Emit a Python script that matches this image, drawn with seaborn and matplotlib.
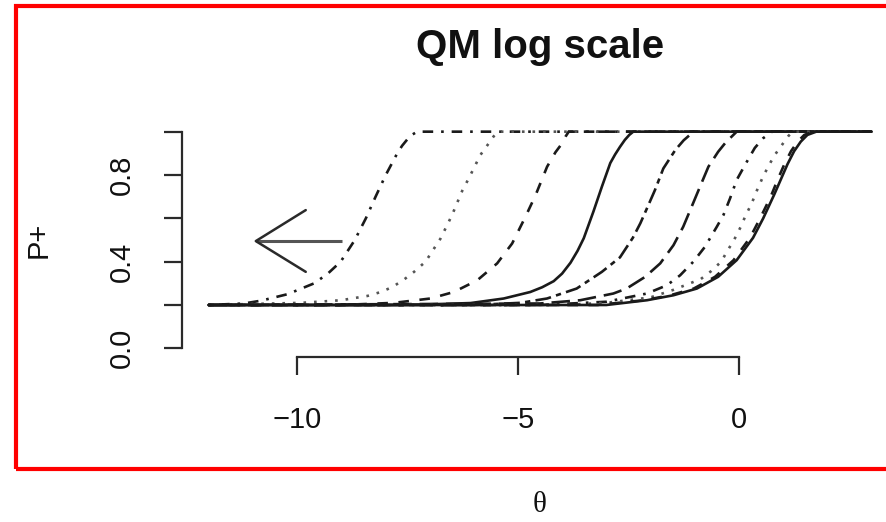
import matplotlib
matplotlib.use("Agg")
import matplotlib.pyplot as plt
import seaborn as sns
import pandas as pd
from matplotlib.patches import Rectangle

# ---------------- data ----------------
theta_1 = [-12, -11.2, -10.81, -10.21, -9.61, -9.30, -9.01, -8.69, -8.44, -8.22, -7.99, -7.73, -7.62, -7.50, -7.40, -7.28, 3]
p_1 = [0.2, 0.207, 0.22, 0.25, 0.30, 0.345, 0.40, 0.50, 0.60, 0.70, 0.80, 0.90, 0.935, 0.965, 0.985, 1.0, 1.0]

theta_2 = [-12, -9.9, -9.0, -8.40, -8.10, -7.84, -7.58, -7.35, -7.09, -6.75, -6.49, -6.26, -6.11, -5.85, -5.66, -5.55, -5.45, 3]
p_2 = [0.2, 0.21, 0.222, 0.242, 0.26, 0.283, 0.317, 0.353, 0.40, 0.507, 0.615, 0.727, 0.785, 0.892, 0.946, 0.978, 1.0, 1.0]

theta_3 = [-12, -9.0, -7.8, -6.98, -6.45, -5.92, -5.47, -5.13, -4.83, -4.60, -4.34, -4.15, -4.0, -3.92, -3.85, 3]
p_3 = [0.2, 0.2, 0.21, 0.23, 0.26, 0.314, 0.392, 0.484, 0.607, 0.707, 0.838, 0.905, 0.946, 0.978, 1.0, 1.0]

theta_4 = [-12, -8.0, -7.0, -6.07, -5.32, -4.72, -4.45, -4.19, -4.0, -3.81, -3.65, -3.51, -3.29, -3.10, -2.91, -2.80, -2.69, -2.58, -2.48, -2.39, 3]
p_4 = [0.2, 0.2, 0.203, 0.209, 0.23, 0.26, 0.282, 0.31, 0.345, 0.395, 0.45, 0.508, 0.632, 0.746, 0.855, 0.895, 0.93, 0.962, 0.985, 1.0, 1.0]

theta_5 = [-12, -6.0, -4.94, -4.34, -3.67, -3.10, -2.69, -2.40, -2.23, -2.05, -1.90, -1.71, -1.44, -1.25, -1.11, -1.05, 3]
p_5 = [0.2, 0.2, 0.21, 0.23, 0.276, 0.353, 0.42, 0.51, 0.577, 0.66, 0.73, 0.83, 0.915, 0.96, 0.985, 1.0, 1.0]

theta_6 = [-12, -4.5, -3.59, -2.84, -2.54, -2.12, -1.78, -1.48, -1.26, -1.07, -0.88, -0.69, -0.47, -0.30, -0.15, -0.05, 3]
p_6 = [0.2, 0.207, 0.222, 0.253, 0.276, 0.33, 0.392, 0.476, 0.561, 0.653, 0.746, 0.838, 0.907, 0.95, 0.98, 1.0, 1.0]

theta_7 = [-12, -4.5, -3.0, -2.08, -1.63, -1.33, -1.03, -0.77, -0.50, -0.35, -0.20, -0.05, 0.14, 0.36, 0.55, 0.75, 3]
p_7 = [0.2, 0.2, 0.215, 0.253, 0.291, 0.337, 0.40, 0.468, 0.561, 0.615, 0.692, 0.777, 0.847, 0.925, 0.97, 1.0, 1.0]

theta_8 = [-12, -4.0, -3.0, -2.0, -1.48, -0.86, -0.63, -0.40, -0.26, -0.11, 0.04, 0.15, 0.29, 0.40, 0.53, 0.66, 0.81, 1.0, 1.12, 1.22, 3]
p_8 = [0.2, 0.2, 0.21, 0.235, 0.27, 0.32, 0.356, 0.40, 0.45, 0.50, 0.56, 0.612, 0.669, 0.725, 0.785, 0.838, 0.892, 0.946, 0.98, 1.0, 1.0]

theta_9 = [-12, -3.2, -2.15, -1.55, -1.02, -0.54, -0.12, 0.25, 0.48, 0.72, 0.88, 1.03, 1.18, 1.33, 1.48, 1.68, 3]
p_9 = [0.2, 0.2, 0.222, 0.245, 0.276, 0.33, 0.407, 0.51, 0.60, 0.70, 0.78, 0.85, 0.91, 0.954, 0.985, 1.0, 1.0]

theta_10 = [-12, -3.0, -2.08, -1.48, -0.95, -0.47, -0.05, 0.32, 0.55, 0.80, 0.95, 1.10, 1.25, 1.40, 1.55, 1.75, 3]
p_10 = [0.2, 0.2, 0.222, 0.245, 0.276, 0.33, 0.407, 0.51, 0.60, 0.71, 0.78, 0.85, 0.91, 0.954, 0.985, 1.0, 1.0]

curve_names = ["c1", "c2", "c3", "c4", "c5", "c6", "c7", "c8", "c9", "c10"]
thetas = [theta_1, theta_2, theta_3, theta_4, theta_5, theta_6, theta_7, theta_8, theta_9, theta_10]
probs = [p_1, p_2, p_3, p_4, p_5, p_6, p_7, p_8, p_9, p_10]

x_ticks = [-10, -5, 0]
x_tick_labels = ["\u221210", "\u22125", "0"]
y_ticks = [0.0, 0.2, 0.4, 0.6, 0.8, 1.0]
y_tick_labels = ["0.0", "", "0.4", "", "0.8", ""]

arrow_tip = (-10.93, 0.495)
arrow_tail = (-8.97, 0.495)
arrow_arm_top = (-9.80, 0.638)
arrow_arm_bottom = (-9.80, 0.353)

title_text = "QM log scale"
x_label = "\u03b8"
y_label = "P+"

# ---------------- styles ----------------
# R lty patterns: solid, dashed, dotted, dotdash, longdash, twodash
dash_styles = {
    "c1": (1, 3, 4, 3),
    "c2": (1, 3),
    "c3": (4, 4),
    "c4": "",
    "c5": (2, 2, 6, 2),
    "c6": (7, 3),
    "c7": (1, 3, 4, 3),
    "c8": (1, 3),
    "c9": (4, 4),
    "c10": "",
}
line_colors = {n: "#1a1a1a" for n in curve_names}
line_colors["c2"] = "#555555"
line_colors["c8"] = "#555555"

frames = []
for name, th, pp in zip(curve_names, thetas, probs):
    frames.append(pd.DataFrame({"theta": th, "p": pp, "curve": name}))
df = pd.concat(frames, ignore_index=True)

sns.set_style("white")
plt.rcParams["font.family"] = ["Liberation Sans", "DejaVu Sans"]

W, H = 887, 522
fig = plt.figure(figsize=(W / 100, H / 100), dpi=100)
ax_left, ax_right, ax_top, ax_bottom = 182, 898, 123, 357
ax = fig.add_axes([ax_left / W, (H - ax_bottom) / H, (ax_right - ax_left) / W, (ax_bottom - ax_top) / H])
ax.patch.set_alpha(0)

sns.lineplot(data=df, x="theta", y="p", hue="curve", style="curve",
             palette=line_colors, dashes=dash_styles, hue_order=curve_names,
             style_order=curve_names, estimator=None, sort=False,
             linewidth=1.9, legend=False, ax=ax)

# arrow annotation
ax.plot([arrow_tip[0], arrow_tail[0]], [arrow_tip[1], arrow_tail[1]], color="#555555", lw=2.2,
        solid_capstyle="butt")
ax.plot([arrow_arm_top[0], arrow_tip[0], arrow_arm_bottom[0]],
        [arrow_arm_top[1], arrow_tip[1], arrow_arm_bottom[1]], color="#2a2a2a", lw=1.8)

ax.set_xlim(-12.6, 3.6)
ax.set_ylim(-0.04, 1.04)

for s in ["top", "right"]:
    ax.spines[s].set_visible(False)
ax.spines["left"].set_bounds(0, 1)
ax.spines["bottom"].set_bounds(-10, 0)
for s in ["left", "bottom"]:
    ax.spines[s].set_linewidth(1.6)
    ax.spines[s].set_color("#2a2a2a")

ax.set_xticks(x_ticks)
ax.set_xticklabels(x_tick_labels)
ax.set_yticks(y_ticks)
ax.set_yticklabels(y_tick_labels)
ax.tick_params(axis="both", direction="out", length=13, width=1.6, color="#2a2a2a",
               labelsize=21, labelcolor="#111111", bottom=True, left=True)
ax.tick_params(axis="x", pad=22)
ax.tick_params(axis="y", pad=20, labelrotation=90)
for lab in ax.get_yticklabels():
    lab.set_va("center")
ax.set_xlabel("")
ax.set_ylabel("")

# titles and labels
fig.text(540 / W, (H - 58) / H, title_text, ha="center", va="baseline",
         fontsize=29, fontweight="bold", color="#111111")
fig.text(39 / W, (H - 240) / H, y_label, ha="center", va="center", rotation=90,
         fontsize=21, color="#111111")
fig.text(540 / W, (H - 505) / H, x_label, ha="center", va="center",
         fontsize=21, color="#111111", family=["Liberation Serif", "DejaVu Serif"])

# red frame
frame = Rectangle((16 / W, (H - 469) / H), (W + 20 - 16) / W, (469 - 6) / H,
                  transform=fig.transFigure, fill=False, edgecolor="#ff0000", lw=3,
                  clip_on=False)
fig.add_artist(frame)

fig.savefig("out.png", dpi=100)
